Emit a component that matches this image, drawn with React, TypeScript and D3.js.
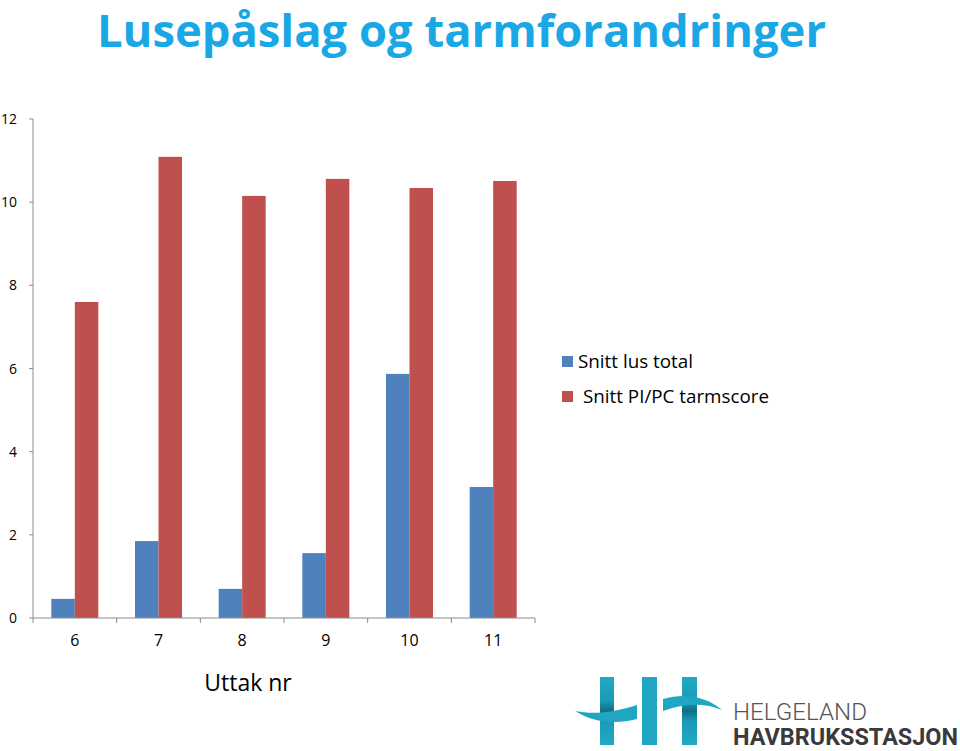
import React from "react";
import * as d3 from "d3";

const categories = ["6", "7", "8", "9", "10", "11"];
const seriesNames = ["Snitt lus total", "Snitt PI/PC tarmscore"];
const lusTotal = [0.46, 1.85, 0.7, 1.56, 5.87, 3.15];
const tarmscore = [7.6, 11.09, 10.15, 10.56, 10.34, 10.51];
const yTicks = [0, 2, 4, 6, 8, 10, 12];
const colors = ["#4f81bd", "#c0504d"];

const W = 960;
const H = 751;
const FONT = "'Open Sans', 'Noto Sans', sans-serif";

export default function App() {
  const x0 = 33;
  const x1 = 535;
  const y0 = 618;
  const y1 = 119;
  const x = d3.scaleBand<string>().domain(categories).range([x0, x1]).paddingInner(0).paddingOuter(0);
  const y = d3.scaleLinear().domain([0, 12]).range([y0, y1]);
  const groupW = 47;
  const inner = d3.scaleBand<number>().domain([0, 1]).range([0, groupW]);
  const series = [lusTotal, tarmscore];
  const axisColor = "#8c8c8c";

  return (
    <svg width={W} height={H} style={{ position: "absolute", left: 0, top: 0, background: "#fff" }} xmlns="http://www.w3.org/2000/svg">
      <defs>
        <linearGradient id="barGrad" x1="0" y1="0" x2="0" y2="1">
          <stop offset="0" stopColor="#22a9c6" />
          <stop offset="0.35" stopColor="#1b9ab6" />
          <stop offset="0.5" stopColor="#0f6f86" />
          <stop offset="0.65" stopColor="#1b9ab6" />
          <stop offset="1" stopColor="#22a9c6" />
        </linearGradient>
      </defs>
      <text x={97} y={47} fill="#1aa7e6" fontFamily={FONT} fontWeight={700} fontSize={44}
        textLength={729} lengthAdjust="spacingAndGlyphs">Lusepåslag og tarmforandringer</text>

      {/* y axis */}
      <line x1={x0} x2={x0} y1={y1} y2={y0} stroke={axisColor} strokeWidth={1} />
      {yTicks.map((t) => (
        <g key={t}>
          <line x1={x0 - 4} x2={x0} y1={y(t)} y2={y(t)} stroke={axisColor} />
          <text x={17} y={y(t)} dy="0.36em" textAnchor="end" fontFamily={FONT} fontSize={14} fill="#000">{t}</text>
        </g>
      ))}
      {/* bars */}
      {categories.map((c, i) => {
        const gx = (x(c) as number) + x.bandwidth() / 2 - groupW / 2;
        return series.map((s, k) => (
          <rect key={c + k} x={gx + (inner(k) as number)} y={y(s[i])} width={inner.bandwidth()}
            height={y0 - y(s[i])} fill={colors[k]} />
        ));
      })}
      {/* x axis */}
      <line x1={x0} x2={x1} y1={y0} y2={y0} stroke={axisColor} />
      {[...categories.map((c) => x(c) as number), x1].map((p, i) => (
        <line key={i} x1={p} x2={p} y1={y0} y2={y0 + 5} stroke={axisColor} />
      ))}
      {categories.map((c) => (
        <text key={c} x={(x(c) as number) + x.bandwidth() / 2} y={646} textAnchor="middle" fontFamily={FONT} fontSize={16} fill="#000">{c}</text>
      ))}
      <text x={248} y={691} textAnchor="middle" fontFamily={FONT} fontSize={23} fill="#000">Uttak nr</text>

      {/* legend */}
      {seriesNames.map((n, k) => (
        <g key={n}>
          <rect x={562} y={356 + k * 35} width={11} height={11} fill={colors[k]} />
          <text x={k === 0 ? 578 : 583} y={368 + k * 35} fontFamily={FONT} fontSize={17.5} fill="#000"
            textLength={k === 0 ? 115 : 186} lengthAdjust="spacingAndGlyphs">{n}</text>
        </g>
      ))}

      {/* logo */}
      <g>
        <rect x={600} y={677} width={14} height={68} fill="url(#barGrad)" />
        <rect x={642} y={677} width={15} height={68} fill="#1ea6c3" />
        <rect x={682} y={677} width={15} height={68} fill="url(#barGrad)" />
        <path d="M575,711 C595,715 615,712 637,705 L637,719 C615,725 592,722 575,711 Z" fill="#1ea6c3" />
        <path d="M663,699 C685,693 705,696 722,710 C705,703 685,703 663,711 Z" fill="#1ea6c3" />
        <text x={733} y={720} fontFamily="'Roboto', 'DejaVu Sans', sans-serif" fontWeight={300} fontSize={23} fill="#555"
          textLength={134} lengthAdjust="spacingAndGlyphs">HELGELAND</text>
        <text x={733} y={745} fontFamily="'Roboto', 'DejaVu Sans', sans-serif" fontWeight={700} fontSize={23} fill="#3a3a3a"
          textLength={225} lengthAdjust="spacingAndGlyphs">HAVBRUKSSTASJON</text>
      </g>
    </svg>
  );
}
